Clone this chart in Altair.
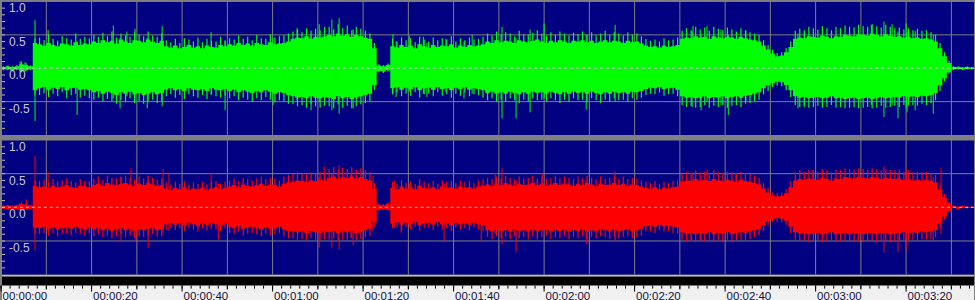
import altair as alt
import pandas as pd

NAVY = "#000080"
GRID = "#808080"
LIGHT = "#c0c0c0"

# ---------------- data (amplitudes in hundredths of full scale) ----------------
seconds = list(range(216))

# dense core of the waveform, one column per second
green_hi = [2, 3, 2, 3, 6, 5, 3,
            38,
            36, 34, 38, 35, 33, 37, 36, 34, 39, 35, 37, 36,
            40, 38, 42, 39, 41, 37, 43, 40, 38, 42, 41, 39, 43, 40, 38, 41,
            33, 31, 34, 30, 32, 35, 31, 33, 30, 34, 32, 31, 35, 33,
            36, 34, 38, 35, 37, 34, 38, 36, 35, 39, 36, 37, 38, 40,
            44, 46, 45, 48, 44, 47, 46, 48,
            50, 48, 52, 49, 51, 47, 50, 48, 46, 44,
            30,
            4, 3, 5,
            33, 31, 35, 32, 34, 30, 36, 33, 31, 35, 32, 34, 33, 36, 31, 34, 32, 35, 33, 34, 36,
            40, 38, 42, 39, 41, 40, 38, 42, 40, 39, 41, 43, 40, 38, 41, 39, 42, 40, 38, 41,
            40, 42, 39, 41, 38, 40, 42, 39, 41, 40, 38, 41, 39, 40, 37,
            34, 32, 33, 31, 34, 32, 33, 35,
            44, 46, 45, 48, 46, 47, 44, 48, 46, 45, 47, 46, 44, 47, 45, 43, 42, 40,
            34, 28, 22, 18, 19, 24, 32,
            44, 46, 45, 48, 47, 46, 49, 47, 45, 48, 47, 50, 49, 48, 51, 50,
            49, 52, 50, 48, 51, 49, 47, 48, 46, 47, 45, 46, 44, 45, 43, 40,
            30, 18, 8,
            2, 2, 1, 2, 1, 1]

green_lo = [-2, -2, -3, -2, -4, -3, -2,
            -33,
            -30, -28, -32, -29, -31, -28, -33, -30, -29, -32, -31, -33,
            -36, -34, -38, -35, -37, -40, -36, -38, -35, -39, -37, -40, -38, -36, -39, -37,
            -32, -30, -33, -31, -34, -30, -32, -33, -31, -34, -30, -32, -33, -31,
            -34, -32, -36, -33, -35, -37, -34, -36, -33, -35, -38, -36, -37, -40,
            -42, -44, -43, -45, -42, -44, -45, -43,
            -44, -46, -42, -45, -43, -46, -44, -42, -40, -38,
            -25,
            -4, -5, -3,
            -30, -28, -32, -29, -31, -28, -33, -30, -29, -32, -28, -31, -30, -33, -29, -31, -28, -32, -30, -31, -33,
            -37, -35, -38, -36, -38, -35, -37, -39, -36, -38, -35, -37, -36, -38, -35, -37, -39, -36, -38, -35,
            -37, -36, -38, -35, -37, -39, -36, -38, -35, -37, -36, -38, -35, -36, -34,
            -31, -29, -30, -28, -31, -30, -29, -32,
            -42, -44, -43, -45, -44, -42, -45, -43, -44, -42, -45, -43, -42, -44, -41, -40, -38, -36,
            -30, -26, -22, -20, -21, -25, -33,
            -42, -44, -43, -45, -44, -43, -45, -44, -42, -45, -44, -46, -45, -44, -46, -45,
            -44, -46, -45, -43, -45, -44, -43, -44, -42, -43, -42, -43, -41, -42, -40, -37,
            -26, -15, -6,
            -2, -1, -2, -1, -1, -1]

# fringe peaks, one per second (drawn mid-second)
green_pk_hi = [3, 4, 3, 5, 10, 8, 4,
               44,
               46, 42, 50, 44, 41, 48, 45, 43, 52, 44, 47, 45,
               50, 47, 53, 48, 55, 46, 52, 49, 47, 54, 50, 48, 55, 49, 47, 52,
               42, 39, 44, 38, 45, 43, 40, 46, 39, 44, 41, 40, 47, 42,
               45, 43, 49, 44, 47, 42, 50, 45, 44, 51, 46, 48, 49, 52,
               55, 58, 54, 60, 56, 59, 57, 62,
               62, 58, 66, 60, 64, 57, 62, 59, 56, 52,
               38,
               6, 5, 7,
               44, 40, 46, 42, 45, 39, 47, 43, 40, 46, 42, 45, 43, 48, 40, 45, 42, 46, 43, 44, 47,
               52, 49, 55, 50, 54, 52, 48, 56, 51, 50, 53, 57, 52, 49, 54, 50, 55, 52, 49, 53,
               51, 55, 50, 54, 49, 52, 56, 50, 54, 52, 49, 54, 50, 52, 48,
               44, 41, 43, 40, 45, 42, 43, 46,
               56, 60, 57, 62, 58, 61, 56, 62, 59, 57, 61, 58, 55, 60, 57, 54, 52, 50,
               42, 35, 28, 23, 24, 30, 40,
               56, 59, 57, 62, 60, 58, 63, 60, 57, 62, 60, 64, 62, 61, 65, 63,
               62, 66, 63, 61, 65, 62, 60, 61, 58, 60, 57, 59, 56, 57, 54, 50,
               38, 24, 11,
               3, 3, 2, 3, 2, 2]

green_pk_lo = [-3, -3, -4, -3, -6, -4, -3,
               -40,
               -40, -37, -43, -38, -42, -36, -45, -40, -38, -44, -41, -45,
               -47, -44, -50, -46, -49, -53, -47, -51, -45, -52, -49, -53, -50, -47, -52, -49,
               -42, -39, -44, -40, -46, -39, -42, -44, -40, -46, -39, -42, -44, -41,
               -45, -42, -48, -44, -47, -50, -45, -48, -43, -47, -51, -48, -49, -53,
               -54, -57, -55, -59, -54, -57, -59, -56,
               -57, -60, -54, -59, -56, -60, -57, -54, -52, -49,
               -32,
               -6, -7, -5,
               -39, -36, -42, -38, -41, -36, -44, -39, -38, -42, -36, -41, -39, -44, -38, -41, -36, -42, -39, -40, -44,
               -48, -45, -50, -47, -50, -45, -48, -52, -47, -50, -45, -48, -47, -50, -45, -48, -52, -47, -50, -45,
               -48, -47, -50, -45, -48, -52, -47, -50, -45, -48, -47, -50, -45, -47, -44,
               -40, -38, -39, -36, -41, -39, -38, -42,
               -55, -58, -56, -59, -58, -55, -59, -56, -58, -55, -59, -56, -55, -58, -53, -52, -49, -47,
               -39, -34, -28, -26, -27, -33, -43,
               -55, -58, -56, -59, -58, -56, -59, -58, -55, -59, -58, -60, -59, -58, -60, -59,
               -58, -60, -59, -56, -59, -58, -56, -58, -55, -56, -55, -56, -53, -55, -52, -48,
               -34, -20, -8,
               -3, -2, -3, -2, -2, -2]

red_hi = [2, 3, 2, 3, 5, 4, 3,
          32,
          30, 31, 29, 32, 30, 31, 33, 30, 29, 32, 31, 30,
          33, 35, 32, 36, 34, 33, 35, 36, 34, 32, 35, 33, 36, 34, 32, 33,
          28, 26, 29, 27, 30, 26, 28, 27, 29, 26, 28, 30, 27, 29,
          31, 33, 30, 34, 32, 31, 33, 35, 32, 34, 33, 31, 35, 37,
          38, 40, 39, 38, 40, 39, 41, 40,
          44, 46, 43, 45, 44, 46, 43, 45, 42, 40,
          28,
          4, 3, 5,
          29, 27, 31, 28, 30, 27, 32, 29, 28, 30, 27, 31, 29, 30, 28, 31, 29, 30, 28, 31, 32,
          34, 32, 35, 33, 36, 34, 32, 35, 33, 34, 36, 33, 35, 32, 34, 36, 33, 35, 34, 32,
          35, 33, 36, 34, 32, 35, 33, 34, 36, 33, 35, 32, 34, 33, 31,
          29, 28, 30, 27, 29, 28, 30, 31,
          38, 40, 39, 42, 40, 41, 39, 42, 40, 39, 41, 40, 38, 41, 39, 38, 36, 34,
          28, 22, 17, 16, 17, 21, 30,
          40, 42, 41, 43, 42, 41, 44, 42, 40, 43, 42, 45, 44, 43, 45, 44,
          43, 45, 44, 42, 44, 43, 42, 43, 41, 42, 40, 41, 40, 41, 39, 37,
          26, 15, 6,
          2, 1, 2, 1, 1, 1]

red_lo = [-2, -3, -2, -3, -4, -3, -2,
          -30,
          -31, -29, -32, -30, -33, -31, -30, -32, -29, -31, -33, -30,
          -33, -31, -34, -32, -35, -33, -31, -34, -32, -35, -33, -34, -32, -31, -34, -33,
          -25, -23, -26, -24, -27, -23, -25, -28, -24, -26, -23, -25, -27, -24,
          -29, -31, -28, -32, -30, -29, -31, -33, -30, -32, -31, -29, -33, -35,
          -35, -37, -36, -38, -35, -37, -38, -36,
          -37, -35, -38, -36, -37, -35, -38, -36, -34, -32,
          -22,
          -4, -3, -4,
          -24, -22, -26, -23, -25, -22, -27, -24, -23, -26, -22, -25, -24, -27, -23, -25, -24, -26, -23, -25, -27,
          -34, -36, -33, -35, -34, -36, -33, -35, -34, -36, -33, -35, -34, -33, -36, -34, -35, -33, -36, -34,
          -35, -33, -36, -34, -35, -33, -34, -36, -33, -35, -34, -33, -35, -34, -32,
          -28, -27, -29, -26, -28, -27, -29, -30,
          -37, -39, -38, -40, -38, -39, -37, -40, -38, -39, -37, -40, -38, -37, -38, -36, -34, -32,
          -27, -21, -17, -16, -17, -20, -29,
          -37, -39, -38, -40, -39, -38, -40, -39, -37, -40, -39, -38, -40, -39, -38, -40,
          -39, -38, -40, -39, -38, -40, -39, -38, -37, -38, -37, -38, -36, -37, -36, -34,
          -24, -14, -5,
          -1, -2, -1, -1, -1, -1]

red_pk_hi = [3, 4, 3, 4, 7, 6, 4,
             40,
             39, 41, 37, 42, 39, 40, 43, 39, 37, 42, 40, 39,
             43, 46, 41, 47, 44, 43, 46, 47, 44, 41, 46, 43, 47, 44, 41, 43,
             37, 34, 38, 35, 39, 34, 37, 35, 38, 34, 37, 39, 35, 38,
             40, 43, 39, 44, 42, 40, 43, 46, 42, 44, 43, 40, 46, 48,
             49, 52, 50, 49, 52, 50, 53, 52,
             57, 60, 56, 59, 57, 60, 56, 58, 55, 52,
             36,
             6, 5, 7,
             38, 35, 40, 36, 39, 35, 42, 38, 36, 39, 35, 40, 38, 39, 36, 40, 38, 39, 36, 40, 42,
             44, 42, 46, 43, 47, 44, 42, 46, 43, 44, 47, 43, 46, 42, 44, 47, 43, 46, 44, 42,
             46, 43, 47, 44, 42, 46, 43, 44, 47, 43, 46, 42, 44, 43, 40,
             38, 36, 39, 35, 38, 36, 39, 40,
             49, 52, 51, 55, 52, 53, 51, 55, 52, 51, 53, 52, 49, 53, 51, 49, 47, 44,
             36, 29, 22, 21, 22, 27, 39,
             52, 55, 53, 56, 55, 53, 57, 55, 52, 56, 55, 58, 57, 56, 58, 57,
             56, 58, 57, 55, 57, 56, 55, 56, 53, 55, 52, 53, 52, 53, 51, 48,
             34, 20, 8,
             3, 2, 3, 2, 2, 2]

red_pk_lo = [-3, -4, -3, -4, -5, -4, -3,
             -39,
             -40, -38, -42, -39, -43, -40, -39, -42, -38, -40, -43, -39,
             -43, -40, -44, -42, -46, -43, -40, -44, -42, -46, -43, -44, -42, -40, -44, -43,
             -33, -30, -34, -31, -35, -30, -33, -36, -31, -34, -30, -33, -35, -31,
             -38, -40, -36, -42, -39, -38, -40, -43, -39, -42, -40, -38, -43, -46,
             -46, -48, -47, -49, -46, -48, -49, -47,
             -48, -46, -49, -47, -48, -46, -49, -47, -44, -42,
             -29,
             -5, -4, -5,
             -31, -29, -34, -30, -33, -29, -35, -31, -30, -34, -29, -33, -31, -35, -30, -33, -31, -34, -30, -33, -35,
             -44, -47, -43, -46, -44, -47, -43, -46, -44, -47, -43, -46, -44, -43, -47, -44, -46, -43, -47, -44,
             -46, -43, -47, -44, -46, -43, -44, -47, -43, -46, -44, -43, -46, -44, -42,
             -36, -35, -38, -34, -36, -35, -38, -39,
             -48, -51, -49, -52, -49, -51, -48, -52, -49, -51, -48, -52, -49, -48, -49, -47, -44, -42,
             -35, -27, -22, -21, -22, -26, -38,
             -48, -51, -49, -52, -51, -49, -52, -51, -48, -52, -51, -49, -52, -51, -49, -52,
             -51, -49, -52, -51, -49, -52, -51, -49, -48, -49, -48, -49, -47, -48, -47, -44,
             -31, -18, -7,
             -1, -3, -1, -2, -1, -1]

# isolated tall peaks (time in s, upper and lower extent in hundredths)
green_spike_t = [4.2, 5.3, 7.5, 10.4, 16.8, 24.8, 26.3, 27.8, 29.6, 32.3, 35.6, 46.4, 49.5,
                 60.1, 65.4, 68.5, 70.3, 73.1, 74.7, 77.8, 86.6, 87.3, 90.2, 93.3, 94.1,
                 98.3, 102.3, 104.1, 110.7, 113.8, 116.9, 120.0, 129.3, 135.7, 152.7,
                 152.9, 154.7, 156.0, 159.1, 160.7, 164.6, 176.1, 177.5, 192.3, 195.1,
                 196.9, 198.2, 200.0, 200.2, 202.0, 206.0]
green_spike_hi = [10, 9, 72, 57, 40, 64, 45, 55, 59, 45, 63, 54, 40,
                  45, 60, 50, 66, 73, 75, 58, 51, 40, 48, 47, 38,
                  44, 40, 50, 62, 45, 58, 67, 50, 65, 55,
                  63, 50, 63, 58, 50, 56, 52, 53, 65, 70,
                  66, 55, 67, 55, 56, 50]
green_spike_lo = [-6, -5, -79, -35, -70, -45, -60, -42, -45, -60, -57, -40, -63,
                  -55, -48, -63, -50, -63, -68, -60, -38, -43, -35, -38, -43,
                  -36, -45, -38, -75, -75, -66, -45, -62, -50, -58,
                  -45, -63, -50, -55, -70, -50, -60, -58, -55, -73,
                  -55, -75, -60, -66, -63, -68]

red_spike_t = [4.0, 5.6, 7.5, 10.4, 26.5, 28.7, 29.8, 32.5, 35.8, 37.1, 46.4, 48.0, 70.3,
               71.4, 73.1, 74.7, 77.3, 77.8, 82.2, 86.9, 88.4, 90.2, 97.9, 106.1, 109.2,
               110.7, 113.8, 118.5, 119.6, 129.3, 135.7, 152.5, 152.9, 154.7, 156.0,
               162.4, 179.4, 189.4, 195.1, 198.2, 200.0, 206.0, 207.7]
red_spike_hi = [6, 12, 76, 52, 45, 58, 40, 42, 57, 51, 51, 35, 45,
                61, 50, 63, 50, 45, 47, 40, 30, 36, 35, 33, 51,
                58, 40, 40, 50, 40, 53, 40, 52, 42, 56,
                51, 56, 45, 61, 50, 58, 45, 59]
red_spike_lo = [-5, -4, -64, -40, -50, -38, -50, -60, -38, -35, -33, -48, -60,
                -42, -60, -63, -45, -57, -35, -30, -38, -30, -50, -50, -40,
                -55, -67, -48, -35, -55, -50, -50, -38, -50, -40,
                -38, -40, -52, -67, -67, -63, -50, -40]

grid_times = [10, 20, 30, 40, 50, 60, 70, 80, 90, 100, 110, 120, 130, 140, 150,
              160, 170, 180, 190, 200, 210]
grid_levels = [1.0, 0.5, -0.5]
side_tick_levels = [0.9, 0.8, 0.7, 0.6, 0.5, 0.4, 0.3, 0.2, 0.1, 0.0,
                    -0.1, -0.2, -0.3, -0.4, -0.5, -0.6, -0.7, -0.8, -0.9]
level_labels = [1.0, 0.5, 0.0, -0.5]
level_texts = ["1.0", "0.5", "0.0", "-0.5"]

ruler_minor = list(range(0, 216, 2))
ruler_mid = [10, 30, 50, 70, 90, 110, 130, 150, 170, 190, 210]
ruler_major = [0, 20, 40, 60, 80, 100, 120, 140, 160, 180, 200]
ruler_texts = ["00:00:00", "00:00:20", "00:00:40", "00:01:00", "00:01:20", "00:01:40",
               "00:02:00", "00:02:20", "00:02:40", "00:03:00", "00:03:20"]

W = 975
XDOM = [0.2, 215.0]


def xscale():
    return alt.Scale(domain=XDOM, nice=False, zero=False)


def yscale():
    return alt.Scale(domain=[-1, 1], nice=False, zero=False)


def panel(hi, lo, phi, plo, st, shi, slo, color, h):
    body = pd.DataFrame({
        "t": seconds,
        "tm": [s + 0.5 for s in seconds],
        "hi": [v / 100 for v in hi],
        "lo": [v / 100 for v in lo],
        "phi": [v / 100 for v in phi],
        "plo": [v / 100 for v in plo],
    })
    spikes = pd.DataFrame({
        "t": st,
        "hi": [v / 100 for v in shi],
        "lo": [v / 100 for v in slo],
    })
    bgd = alt.Chart(pd.DataFrame({"a": [1]})).mark_rect(color=NAVY).encode(
        x=alt.value(0), x2=alt.value(W), y=alt.value(0), y2=alt.value(h))
    gv = alt.Chart(pd.DataFrame({"t": grid_times})).mark_rule(
        color=GRID, strokeWidth=1).encode(x=alt.X("t:Q", scale=xscale(), axis=None))
    gh = alt.Chart(pd.DataFrame({"v": grid_levels})).mark_rule(
        color=GRID, strokeWidth=1).encode(y=alt.Y("v:Q", scale=yscale(), axis=None))
    core = alt.Chart(body).mark_area(color=color, interpolate="step-after", clip=True,
                                     opacity=1).encode(
        x=alt.X("t:Q", scale=xscale(), axis=None),
        y=alt.Y("hi:Q", scale=yscale(), axis=None), y2="lo:Q")
    fringe = alt.Chart(body).mark_rule(color=color, strokeWidth=1.2, clip=True).encode(
        x=alt.X("tm:Q", scale=xscale(), axis=None),
        y=alt.Y("phi:Q", scale=yscale(), axis=None), y2="plo:Q")
    sp = alt.Chart(spikes).mark_rule(color=color, strokeWidth=1, clip=True).encode(
        x=alt.X("t:Q", scale=xscale(), axis=None),
        y=alt.Y("hi:Q", scale=yscale(), axis=None), y2="lo:Q")
    center = alt.Chart(pd.DataFrame({"v": [0.0]})).mark_rule(
        color=LIGHT, strokeWidth=1, strokeDash=[3, 3]).encode(
        y=alt.Y("v:Q", scale=yscale(), axis=None))
    side = alt.Chart(pd.DataFrame({"v": side_tick_levels})).mark_rule(
        color=LIGHT, strokeWidth=1).encode(
        y=alt.Y("v:Q", scale=yscale(), axis=None), x=alt.value(0), x2=alt.value(3))
    labels = alt.Chart(pd.DataFrame({"v": level_labels, "label": level_texts})).mark_text(
        align="left", baseline="top", dy=2, font="Liberation Sans", fontSize=12,
        color="#c8c8d0").encode(
        y=alt.Y("v:Q", scale=yscale(), axis=None), x=alt.value(7), text="label:N")
    return alt.layer(bgd, gv, gh, core, fringe, sp, center, side, labels).properties(
        width=W, height=h)


top = panel(green_hi, green_lo, green_pk_hi, green_pk_lo,
            green_spike_t, green_spike_hi, green_spike_lo, "#00ff00", 134)
bottom = panel(red_hi, red_lo, red_pk_hi, red_pk_lo,
               red_spike_t, red_spike_hi, red_spike_lo, "#ff0000", 135)

one = pd.DataFrame({"a": [1]})
r_bg = alt.Chart(one).mark_rect(color="#f0f0f0").encode(
    x=alt.value(0), x2=alt.value(W), y=alt.value(0), y2=alt.value(28))
r_line = alt.Chart(one).mark_rect(color=LIGHT).encode(
    x=alt.value(0), x2=alt.value(W), y=alt.value(0), y2=alt.value(1))
r_black = alt.Chart(one).mark_rect(color="#000000").encode(
    x=alt.value(0), x2=alt.value(W), y=alt.value(1), y2=alt.value(10))
r_minor = alt.Chart(pd.DataFrame({"t": ruler_minor})).mark_rule(color="#000000").encode(
    x=alt.X("t:Q", scale=xscale(), axis=None), y=alt.value(10), y2=alt.value(13))
r_mid = alt.Chart(pd.DataFrame({"t": ruler_mid})).mark_rule(color="#000000").encode(
    x=alt.X("t:Q", scale=xscale(), axis=None), y=alt.value(10), y2=alt.value(14))
r_major = alt.Chart(pd.DataFrame({"t": ruler_major})).mark_rule(color="#000000").encode(
    x=alt.X("t:Q", scale=xscale(), axis=None), y=alt.value(10), y2=alt.value(16))
r_text = alt.Chart(pd.DataFrame({"t": ruler_major, "label": ruler_texts})).mark_text(
    align="left", baseline="middle", dx=1.5, font="Liberation Sans", fontSize=11.5,
    color="#101040").encode(
    x=alt.X("t:Q", scale=xscale(), axis=None), y=alt.value(21), text="label:N")
ruler = alt.layer(r_bg, r_line, r_black, r_minor, r_mid, r_major, r_text).properties(
    width=W, height=28)

chart = alt.vconcat(
    alt.vconcat(top, bottom, spacing=3),
    ruler,
    spacing=0,
).properties(
    padding=0,
    background=GRID,
).configure_view(strokeWidth=0)

chart.save("out.html", embed_options={"renderer": "svg", "actions": False})
